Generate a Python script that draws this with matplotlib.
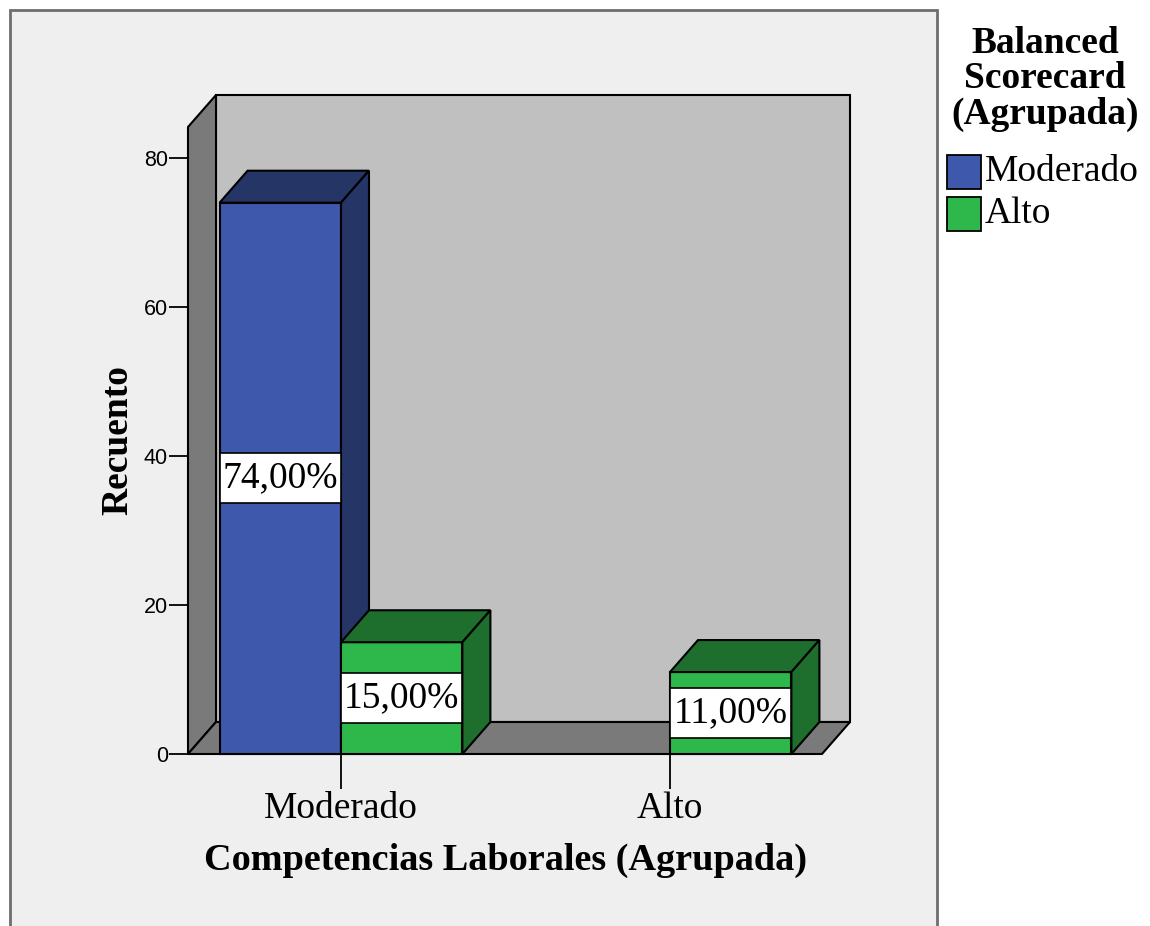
import matplotlib
matplotlib.use("Agg")
import matplotlib.pyplot as plt
from matplotlib.patches import Polygon, Rectangle

# Data
categories = ["Moderado", "Alto"]          # Competencias Laborales (Agrupada)
series_names = ["Moderado", "Alto"]        # Balanced Scorecard (Agrupada)
counts = {
    "Moderado": [74, 0],
    "Alto": [15, 11],
}
percent_labels = {
    "Moderado": ["74,00%", None],
    "Alto": ["15,00%", "11,00%"],
}
y_ticks = [0, 20, 40, 60, 80]

# Styling
W, H, DPI = 1150, 926, 100
front_colors = {"Moderado": "#3E58AC", "Alto": "#2EB84C"}
shade_colors = {"Moderado": "#243566", "Alto": "#1E6E2E"}
frame_bg = "#EFEFEF"
wall_back = "#C0C0C0"
wall_side = "#7A7A7A"
serif = ["Liberation Serif", "DejaVu Serif"]
sans = ["Liberation Sans", "DejaVu Sans"]
label_size = 27

fig = plt.figure(figsize=(W / DPI, H / DPI), dpi=DPI)
fig.patch.set_facecolor("white")

# Chart frame
fig.patches.append(Rectangle((10 / W, -0.05), (937 - 10) / W, (H - 10) / H + 0.05,
                             transform=fig.transFigure, facecolor=frame_bg,
                             edgecolor="#6E6E6E", linewidth=2.0, zorder=-10))

# Front plane of the 3D box, in pixels
px_left, px_right, px_bottom, px_top = 188, 822, 754, 127
ax = fig.add_axes([px_left / W, (H - px_bottom) / H,
                   (px_right - px_left) / W, (px_bottom - px_top) / H])
ax.set_facecolor("none")
xlim = (-0.465, 1.462)
ymax = (px_bottom - px_top) / 7.45
ax.set_xlim(*xlim)
ax.set_ylim(0, ymax)
for s in ax.spines.values():
    s.set_visible(False)

# depth offset (pixels -> data units)
depth_px_x, depth_px_y = 28, 32
ddx = depth_px_x * (xlim[1] - xlim[0]) / (px_right - px_left)
ddy = depth_px_y * ymax / (px_bottom - px_top)

lw = 1.5
def poly(pts, fc, z):
    ax.add_patch(Polygon(pts, closed=True, facecolor=fc, edgecolor="black",
                         linewidth=lw, joinstyle="miter", clip_on=False, zorder=z))

x0, x1 = xlim
# back wall, left wall, floor
poly([(x0 + ddx, ddy), (x1 + ddx, ddy), (x1 + ddx, ymax + ddy), (x0 + ddx, ymax + ddy)], wall_back, 1)
poly([(x0, 0), (x0 + ddx, ddy), (x0 + ddx, ymax + ddy), (x0, ymax)], wall_side, 2)
poly([(x0, 0), (x1, 0), (x1 + ddx, ddy), (x0 + ddx, ddy)], wall_side, 2)

# bars
bar_w = 0.369
offsets = {"Moderado": -bar_w, "Alto": 0.0}
z = 3
for ci, cat in enumerate(categories):
    for name in series_names:
        v = counts[name][ci]
        if v <= 0:
            continue
        left = ci + offsets[name]
        right = left + bar_w
        poly([(left, 0), (right, 0), (right, v), (left, v)], front_colors[name], z)
        poly([(left, v), (right, v), (right + ddx, v + ddy), (left + ddx, v + ddy)], shade_colors[name], z)
        poly([(right, 0), (right + ddx, ddy), (right + ddx, v + ddy), (right, v)], shade_colors[name], z)
        lab = percent_labels[name][ci]
        if lab:
            box_h = 50 * ymax / (px_bottom - px_top)
            ax.add_patch(Rectangle((left, v / 2 - box_h / 2), bar_w, box_h,
                                   facecolor="white", edgecolor="black",
                                   linewidth=1.2, clip_on=False, zorder=z + 0.5))
            ax.text((left + right) / 2, v / 2, lab, ha="center", va="center",
                    fontsize=label_size, family=serif, zorder=z + 1)
        z += 1

# axes ticks
ax.set_yticks(y_ticks)
ax.set_yticklabels([str(t) for t in y_ticks], family=sans, fontsize=15.5)
ax.tick_params(axis="y", length=14, width=1.3, pad=0.5, color="black")
ax.set_xticks(range(len(categories)))
ax.set_xticklabels(categories, family=serif, fontsize=label_size)
ax.tick_params(axis="x", length=25, width=1.3, pad=2, color="black")

ax.set_ylabel("Recuento", family=serif, fontsize=27, fontweight="bold", labelpad=6)
ax.set_xlabel("Competencias Laborales (Agrupada)", family=serif, fontsize=27.5,
              fontweight="bold", labelpad=12)

# legend
fig.text(1045 / W, 1 - 79 / H, "Balanced\nScorecard\n(Agrupada)", ha="center", va="center",
         family=serif, fontsize=27, fontweight="bold", linespacing=1.02)
leg_y = [172, 214]
for name, yc in zip(series_names, leg_y):
    fig.patches.append(Rectangle((947 / W, 1 - (yc + 17) / H), 34 / W, 34 / H,
                                 transform=fig.transFigure, facecolor=front_colors[name],
                                 edgecolor="black", linewidth=1.3))
    fig.text(985 / W, 1 - yc / H, name, ha="left", va="center", family=serif, fontsize=label_size)

fig.savefig("out.png", dpi=DPI)
